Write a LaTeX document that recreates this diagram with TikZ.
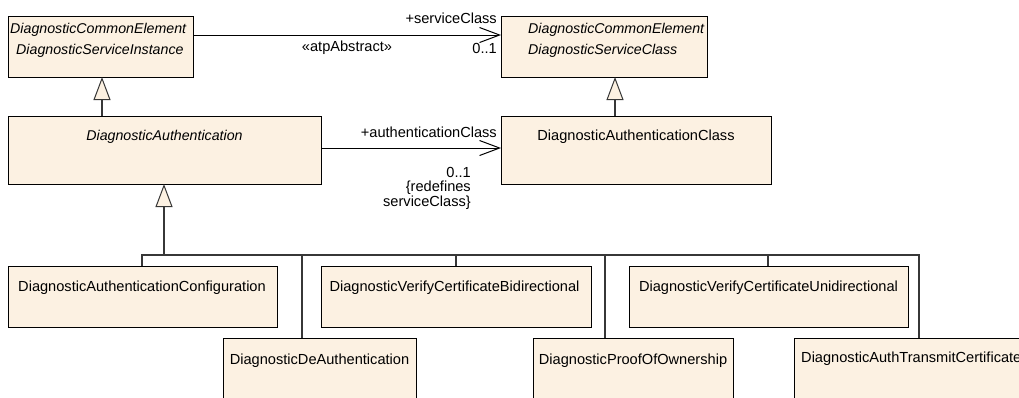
\documentclass[tikz,border=0pt]{standalone}
\usepackage{fontspec}
\setmainfont{Liberation Sans}
\usetikzlibrary{arrows.meta}
\definecolor{boxfill}{RGB}{252,241,226}
\definecolor{linegray}{RGB}{55,55,55}
\begin{document}
\begin{tikzpicture}[x=1pt,y=-1pt,
  box/.style={draw=black, fill=boxfill, line width=1pt, inner sep=0pt, outer sep=0pt, anchor=north west},
  txt/.style={inner sep=0pt, font=\fontsize{14.6}{17}\selectfont},
  itxt/.style={inner sep=0pt, font=\fontsize{14.2}{17}\selectfont\itshape},
  gen/.style={draw=linegray, line width=1.1pt},
  genhead/.style={-{Triangle[length=23pt,width=17pt,fill=boxfill,line width=1pt]}},
  assoc/.style={draw=black, line width=1pt, -{Straight Barb[length=20pt,width=15pt,line width=1pt]}}]
\useasboundingbox (0,0) rectangle (1019,397);
\clip (0,0) rectangle (1019,397);
% boxes
\node[box, minimum width=185pt, minimum height=61pt] (A) at (8,16) {};
\node[box, minimum width=313pt, minimum height=68pt] (B) at (8,116) {};
\node[box, minimum width=206pt, minimum height=61pt] (C) at (501,16) {};
\node[box, minimum width=270pt, minimum height=68pt] (D) at (501,116) {};
\node[box, minimum width=269pt, minimum height=61pt] (E) at (8,266) {};
\node[box, minimum width=193pt, minimum height=80pt] (F) at (223,338) {};
\node[box, minimum width=270pt, minimum height=61pt] (G) at (321,266) {};
\node[box, minimum width=200pt, minimum height=80pt] (H) at (533,338) {};
\node[box, minimum width=279pt, minimum height=61pt] (I) at (629,266) {};
\node[box, minimum width=260pt, minimum height=80pt] (J) at (794,338) {};
% box texts
\node[itxt, anchor=west] (A1) at (10,30) {DiagnosticCommonElement};
\node[itxt, anchor=west] (A2) at (16,51) {DiagnosticServiceInstance};
\node[itxt, anchor=west] (C1) at (528,30) {DiagnosticCommonElement};
\node[itxt, anchor=west] (C2) at (528,51) {DiagnosticServiceClass};
\node[itxt] (Bt) at (164.5,137) {DiagnosticAuthentication};
\node[txt] (Dt) at (636,137) {DiagnosticAuthenticationClass};
\node[txt] (Et) at (142,288) {DiagnosticAuthenticationConfiguration};
\node[txt] (Ft) at (319.5,361) {DiagnosticDeAuthentication};
\node[txt] (Gt) at (454.5,288) {DiagnosticVerifyCertificateBidirectional};
\node[txt] (Ht) at (633,361) {DiagnosticProofOfOwnership};
\node[txt] (It) at (768.5,288) {DiagnosticVerifyCertificateUnidirectional};
\node[txt, anchor=west] (Jt) at (801,359) {DiagnosticAuthTransmitCertificate};
% associations
\coordinate (yA) at (0,35);
\coordinate (yB) at (0,148);
\draw[assoc] (A.east |- yA) -- (C.west |- yA);
\draw[assoc] (B.east |- yB) -- (D.west |- yB);
\node[txt, anchor=east] (lsc) at (497,18) {+serviceClass};
\node[txt] (lst) at (347,48) {«atpAbstract»};
\node[txt, anchor=east] (lm1) at (497,48) {0..1};
\node[txt, anchor=east] (lac) at (497,132) {+authenticationClass};
\node[txt, anchor=east] (lm2) at (471,172) {0..1};
\node[txt, anchor=east] (lr1) at (471,188) {\{redefines};
\node[txt, anchor=east] (lr2) at (471,203) {serviceClass\}};
% generalizations
\coordinate (xAB) at (102,0);
\coordinate (xCD) at (615,0);
\draw[gen, genhead] (B.north -| xAB) -- (A.south -| xAB);
\draw[gen, genhead] (D.north -| xCD) -- (C.south -| xCD);
\coordinate (busL) at (142,255);
\coordinate (busR) at (919,255);
\coordinate (busB) at (164,255);
\coordinate (xF) at (302,0);
\coordinate (xG) at (456,0);
\coordinate (xH) at (605,0);
\coordinate (xI) at (768,0);
\draw[gen, genhead] (busB) -- (B.south -| busB);
\draw[gen] (E.north -| busL) -- (busL) -- (busR) -- (J.north -| busR);
\draw[gen] (F.north -| xF) -- (busL -| xF);
\draw[gen] (G.north -| xG) -- (busL -| xG);
\draw[gen] (H.north -| xH) -- (busL -| xH);
\draw[gen] (I.north -| xI) -- (busL -| xI);
\end{tikzpicture}
\end{document}
